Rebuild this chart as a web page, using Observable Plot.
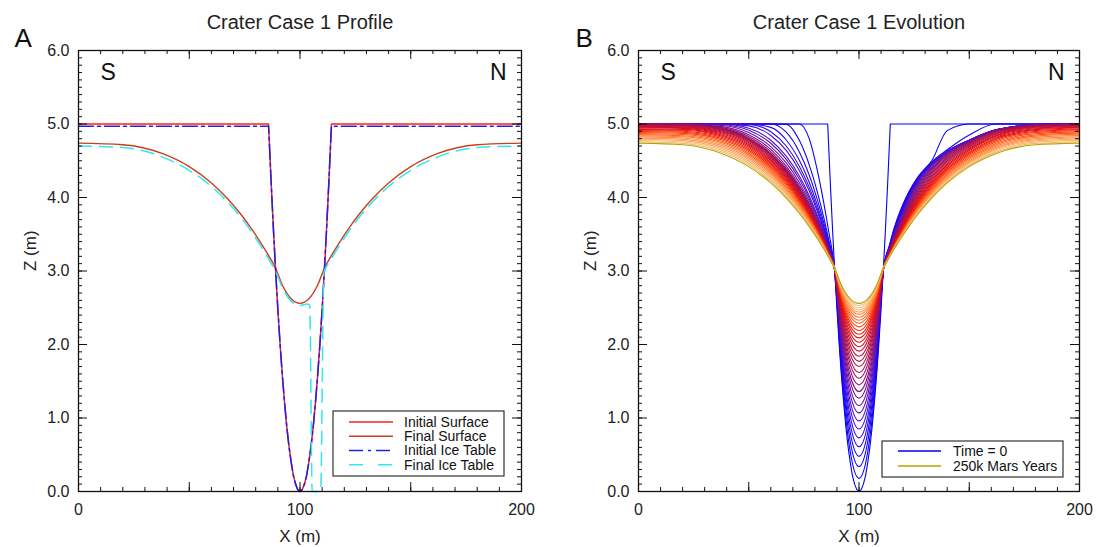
<!DOCTYPE html>
<html>
<head>
<meta charset="utf-8">
<script src="https://cdn.jsdelivr.net/npm/d3@7"></script>
<script src="https://cdn.jsdelivr.net/npm/@observablehq/plot@0.6"></script>
<style>
  body { margin: 0; background: #fff; }
  #wrap { display: flex; width: 1097px; height: 547px; }
  #wrap svg { display: block; }
</style>
</head>
<body>
<div id="wrap"></div>
<script>
const FONT = "'Liberation Sans', Arial, Helvetica, sans-serif";

// ---- axis tick values / labels ----
const zTickLabels = [0, 1, 2, 3, 4, 5, 6];
const xTickLabels = [0, 100, 200];
const xMajorTicks = [0, 50, 100, 150, 200];
const xMinorTicks = d3.range(0, 201, 10);
const zMinorTicks = d3.range(0, 61).map(k => k / 10);

// ---- Panel A: initial surface & initial ice table ----
const initialX = [0, 85.8, 87, 88, 89, 90, 91, 92, 93, 94, 95, 96, 97, 98, 99, 100,
                  101, 102, 103, 104, 105, 106, 107, 108, 109, 110, 111, 112, 113, 114.2, 200];
const initialSurfaceZ = [5, 5, 4.19, 3.57, 3.00, 2.48, 2.01, 1.59, 1.22, 0.89, 0.62, 0.40, 0.22, 0.10, 0.025, 0,
                         0.025, 0.10, 0.22, 0.40, 0.62, 0.89, 1.22, 1.59, 2.01, 2.48, 3.00, 3.57, 4.19, 5, 5];
const initialIceZ = [4.97, 4.97, 4.19, 3.57, 3.00, 2.48, 2.01, 1.59, 1.22, 0.89, 0.62, 0.40, 0.22, 0.10, 0.025, 0,
                     0.025, 0.10, 0.22, 0.40, 0.62, 0.89, 1.22, 1.59, 2.01, 2.48, 3.00, 3.57, 4.19, 4.97, 4.97];

// ---- final ice table ----
const finalIceX = [0, 20, 38, 50, 60, 67, 73, 77.5, 81, 84, 86.3, 88.8, 92, 96, 100, 103, 104.4, 105.5,
                   109.3, 110.8, 113.7, 116, 119, 122.5, 127, 133, 140, 150, 162, 180, 200];
const finalIceZ = [4.70, 4.68, 4.55, 4.37, 4.15, 3.95, 3.74, 3.56, 3.40, 3.26, 3.14, 3.01, 2.78, 2.59, 2.53, 2.55, 2.54, 0,
                   0, 2.98, 3.14, 3.26, 3.40, 3.56, 3.74, 3.95, 4.15, 4.37, 4.55, 4.68, 4.70];

// ---- profile x grid shared by the evolving profiles ----
const xGrid = [0, 20, 38, 50, 60, 67, 73, 77.5, 81, 84, 86.3, 88.8, 92, 96, 100, 104, 108, 111.2,
               113.7, 116, 119, 122.5, 127, 133, 140, 150, 162, 180, 200];

const finalSurfaceZ = [4.740, 4.718, 4.596, 4.420, 4.198, 3.993, 3.782, 3.601, 3.445, 3.302, 3.185, 3.05,
                       2.810, 2.622, 2.56, 2.622, 2.810, 3.05,
                       3.185, 3.302, 3.445, 3.601, 3.782, 3.993, 4.198, 4.420, 4.596, 4.718, 4.740];

// ---- Panel B: intermediate profiles (time steps 1..32), read/estimated from the figure ----
const intermediateZ = [
  [5,5,5,5,5,5,5,4.794,4.383,3.930,3.531, 3.05, 1.644,0.546,0.18,0.546,1.644, 3.05, 3.34,3.59,3.84,4.07,4.29,4.50,4.91,5,5,5,5],
  [5,5,5,5,5,4.995,4.774,4.438,4.088,3.731,3.421, 3.05, 1.723,0.686,0.34,0.686,1.723, 3.05, 3.33,3.575,3.82,4.055,4.28,4.485,4.65,4.85,5,5,5],
  [5,5,5,5,5,4.888,4.617,4.299,3.982,3.661,3.384, 3.05, 1.791,0.808,0.48,0.808,1.791, 3.05, 3.32,3.56,3.80,4.04,4.27,4.47,4.63,4.78,4.92,4.99,5],
  [5,5,5,5,4.954,4.782,4.502,4.201,3.906,3.612,3.357, 3.05, 1.855,0.921,0.61,0.921,1.855, 3.05, 3.312,3.544,3.783,4.028,4.264,4.468,4.630,4.780,4.920,4.990,5],
  [5,5,5,4.995,4.895,4.701,4.423,4.134,3.856,3.578,3.339, 3.05, 1.914,1.026,0.73,1.026,1.914, 3.05, 3.304,3.529,3.766,4.012,4.254,4.463,4.628,4.780,4.920,4.990,5],
  [5,5,5,4.975,4.844,4.640,4.365,4.086,3.819,3.554,3.326, 3.05, 1.973,1.131,0.85,1.131,1.973, 3.05, 3.296,3.514,3.747,3.994,4.239,4.455,4.624,4.779,4.920,4.990,5],
  [5,5,4.998,4.942,4.779,4.562,4.288,4.018,3.765,3.517,3.304, 3.05, 2.026,1.226,0.96,1.226,2.026, 3.05, 3.289,3.500,3.729,3.975,4.223,4.445,4.619,4.777,4.919,4.990,5],
  [5,5,4.990,4.914,4.738,4.518,4.247,3.984,3.738,3.499,3.295, 3.05, 2.080,1.322,1.07,1.322,2.080, 3.05, 3.282,3.487,3.711,3.955,4.205,4.432,4.612,4.774,4.918,4.989,5],
  [5,5,4.979,4.884,4.693,4.470,4.202,3.945,3.709,3.479,3.283, 3.05, 2.129,1.410,1.17,1.410,2.129, 3.05, 3.275,3.474,3.695,3.935,4.187,4.418,4.603,4.769,4.916,4.989,4.999],
  [5,5,4.964,4.854,4.654,4.428,4.163,3.913,3.684,3.462,3.273, 3.05, 2.178,1.497,1.27,1.497,2.178, 3.05, 3.269,3.462,3.678,3.915,4.166,4.401,4.592,4.764,4.913,4.987,4.998],
  [5,4.998,4.951,4.829,4.623,4.397,4.135,3.890,3.665,3.449,3.267, 3.05, 2.222,1.575,1.36,1.575,2.222, 3.05, 3.263,3.451,3.662,3.897,4.147,4.385,4.580,4.757,4.910,4.986,4.997],
  [5,4.996,4.940,4.811,4.601,4.375,4.115,3.873,3.653,3.441,3.262, 3.05, 2.267,1.654,1.45,1.654,2.267, 3.05, 3.257,3.440,3.647,3.877,4.126,4.366,4.566,4.749,4.905,4.983,4.995],
  [4.995,4.990,4.930,4.800,4.589,4.365,4.107,3.867,3.648,3.438,3.260, 3.05, 2.311,1.732,1.54,1.732,2.311, 3.05, 3.251,3.429,3.631,3.857,4.104,4.346,4.550,4.738,4.898,4.979,4.993],
  [4.991,4.986,4.923,4.790,4.578,4.352,4.095,3.857,3.640,3.432,3.257, 3.05, 2.350,1.802,1.62,1.802,2.350, 3.05, 3.246,3.419,3.617,3.839,4.084,4.327,4.534,4.727,4.891,4.975,4.989],
  [4.985,4.979,4.914,4.778,4.564,4.338,4.082,3.846,3.632,3.426,3.254, 3.05, 2.389,1.872,1.70,1.872,2.389, 3.05, 3.241,3.409,3.603,3.821,4.062,4.306,4.516,4.715,4.882,4.969,4.985],
  [4.977,4.971,4.903,4.764,4.548,4.323,4.068,3.834,3.622,3.420,3.250, 3.05, 2.423,1.933,1.77,1.933,2.423, 3.05, 3.236,3.400,3.590,3.804,4.043,4.287,4.499,4.702,4.872,4.963,4.979],
  [4.968,4.961,4.890,4.749,4.532,4.307,4.053,3.822,3.613,3.414,3.247, 3.05, 2.458,1.994,1.84,1.994,2.458, 3.05, 3.232,3.391,3.578,3.787,4.023,4.266,4.481,4.688,4.861,4.955,4.973],
  [4.958,4.951,4.877,4.733,4.515,4.290,4.038,3.809,3.603,3.407,3.243, 3.05, 2.492,2.055,1.91,2.055,2.492, 3.05, 3.227,3.383,3.565,3.770,4.002,4.245,4.461,4.671,4.848,4.945,4.964],
  [4.948,4.940,4.864,4.717,4.498,4.273,4.023,3.796,3.593,3.400,3.239, 3.05, 2.521,2.108,1.97,2.108,2.521, 3.05, 3.223,3.375,3.554,3.756,3.984,4.225,4.442,4.656,4.835,4.935,4.956],
  [4.936,4.927,4.848,4.700,4.479,4.255,4.007,3.783,3.583,3.394,3.235, 3.05, 2.551,2.160,2.03,2.160,2.551, 3.05, 3.219,3.368,3.543,3.741,3.965,4.205,4.423,4.640,4.820,4.924,4.945],
  [4.924,4.915,4.833,4.682,4.460,4.237,3.991,3.770,3.573,3.387,3.231, 3.05, 2.580,2.212,2.09,2.212,2.580, 3.05, 3.216,3.360,3.532,3.725,3.946,4.184,4.402,4.621,4.804,4.911,4.933],
  [4.912,4.902,4.817,4.663,4.441,4.218,3.975,3.757,3.563,3.380,3.228, 3.05, 2.605,2.256,2.14,2.256,2.605, 3.05, 3.212,3.354,3.523,3.713,3.930,4.166,4.384,4.605,4.789,4.898,4.921],
  [4.898,4.887,4.799,4.643,4.420,4.199,3.958,3.743,3.552,3.373,3.224, 3.05, 2.629,2.299,2.19,2.299,2.629, 3.05, 3.209,3.348,3.514,3.700,3.913,4.148,4.365,4.588,4.772,4.884,4.908],
  [4.885,4.873,4.782,4.624,4.400,4.180,3.941,3.729,3.542,3.366,3.220, 3.05, 2.654,2.343,2.24,2.343,2.654, 3.05, 3.206,3.342,3.505,3.687,3.896,4.129,4.345,4.569,4.754,4.868,4.893],
  [4.870,4.857,4.763,4.603,4.379,4.160,3.924,3.715,3.531,3.358,3.216, 3.05, 2.678,2.387,2.29,2.387,2.678, 3.05, 3.203,3.336,3.495,3.674,3.879,4.109,4.325,4.549,4.734,4.850,4.876],
  [4.855,4.841,4.744,4.581,4.357,4.139,3.907,3.701,3.520,3.351,3.212, 3.05, 2.698,2.422,2.33,2.422,2.698, 3.05, 3.200,3.331,3.488,3.663,3.865,4.093,4.308,4.533,4.717,4.835,4.860],
  [4.840,4.826,4.725,4.560,4.335,4.119,3.889,3.687,3.510,3.344,3.208, 3.05, 2.717,2.457,2.37,2.457,2.717, 3.05, 3.197,3.326,3.481,3.652,3.851,4.076,4.290,4.515,4.699,4.818,4.843],
  [4.825,4.809,4.705,4.538,4.314,4.099,3.872,3.673,3.499,3.337,3.204, 3.05, 2.737,2.492,2.41,2.492,2.737, 3.05, 3.195,3.321,3.473,3.642,3.837,4.059,4.272,4.497,4.680,4.800,4.825],
  [4.808,4.791,4.684,4.515,4.291,4.078,3.854,3.658,3.488,3.330,3.200, 3.05, 2.752,2.518,2.44,2.518,2.752, 3.05, 3.193,3.317,3.467,3.634,3.826,4.047,4.258,4.482,4.665,4.786,4.810],
  [4.792,4.774,4.663,4.492,4.268,4.057,3.836,3.644,3.478,3.323,3.196, 3.05, 2.766,2.544,2.47,2.544,2.766, 3.05, 3.191,3.313,3.462,3.626,3.815,4.033,4.243,4.468,4.649,4.770,4.794],
  [4.775,4.756,4.641,4.469,4.245,4.036,3.818,3.630,3.467,3.316,3.192, 3.05, 2.781,2.570,2.50,2.570,2.781, 3.05, 3.189,3.309,3.456,3.617,3.804,4.020,4.228,4.452,4.632,4.754,4.777],
  [4.758,4.737,4.619,4.445,4.222,4.015,3.801,3.616,3.456,3.309,3.189, 3.05, 2.796,2.596,2.53,2.596,2.796, 3.05, 3.187,3.306,3.451,3.609,3.793,4.007,4.213,4.436,4.614,4.736,4.759]
];
const evolutionZ = [...intermediateZ, finalSurfaceZ];

// ---- colours ----
const stepColorDomain = [0, 4, 7, 10, 13, 18, 21, 23, 26, 29, 31, 32, 33];
const stepColorRange = ["#0000ff", "#2808f0", "#5010c8", "#7a1090", "#9a1060", "#c81030", "#e81010",
                        "#ff2a00", "#ff6a20", "#ff9a50", "#ffb878", "#e8c070", "#b8a400"];
const stepColor = d3.scaleLinear().domain(stepColorDomain).range(stepColorRange).interpolate(d3.interpolateRgb);

const C_INIT = "#ff1e1e", C_FINAL = "#c8401a", C_ICE0 = "#2020e8", C_ICE1 = "#30e6f0";

// ---- helpers ----
const toPts = (xs, zs) => xs.map((x, i) => ({x, z: zs[i]}));
const MT = 50, MB = 56, ML = 78, H = 547;
const PH = H - MT - MB;

function frameMarks(plotW, title, letter, letterDx) {
  const tk = {stroke: "#111", strokeWidth: 1};
  return [
    Plot.tickY(zMinorTicks, {y: d => d, insetRight: plotW - 4, ...tk}),
    Plot.tickY(zMinorTicks, {y: d => d, insetLeft: plotW - 4, ...tk}),
    Plot.tickY(zTickLabels, {y: d => d, insetRight: plotW - 9, ...tk}),
    Plot.tickY(zTickLabels, {y: d => d, insetLeft: plotW - 9, ...tk}),
    Plot.tickX(xMinorTicks, {x: d => d, insetTop: PH - 4, ...tk}),
    Plot.tickX(xMinorTicks, {x: d => d, insetBottom: PH - 4, ...tk}),
    Plot.tickX(xMajorTicks, {x: d => d, insetTop: PH - 9, ...tk}),
    Plot.tickX(xMajorTicks, {x: d => d, insetBottom: PH - 9, ...tk}),
    Plot.frame({stroke: "#111", strokeWidth: 1.3}),
    Plot.text(zTickLabels, {y: d => d, frameAnchor: "left", textAnchor: "end", dx: -9, text: d => d.toFixed(1), fontSize: 16, fill: "#222"}),
    Plot.text(xTickLabels, {x: d => d, frameAnchor: "bottom", lineAnchor: "bottom", dy: 23, text: d => String(d), fontSize: 16, fill: "#222"}),
    Plot.text(["X (m)"], {frameAnchor: "bottom", lineAnchor: "bottom", dy: 50, fontSize: 17, fill: "#222"}),
    Plot.text(["Z (m)"], {frameAnchor: "left", rotate: -90, dx: -48, fontSize: 17, fill: "#222"}),
    Plot.text([title], {frameAnchor: "top", lineAnchor: "bottom", dy: -22, fontSize: 20, fill: "#222"}),
    Plot.text([letter], {frameAnchor: "top-left", textAnchor: "start", lineAnchor: "top", dx: letterDx, dy: -22, fontSize: 26, fill: "#111"}),
    Plot.text(["S"], {frameAnchor: "top-left", textAnchor: "start", lineAnchor: "top", dx: 22, dy: 13, fontSize: 23, fill: "#111"}),
    Plot.text(["N"], {frameAnchor: "top-right", textAnchor: "end", lineAnchor: "top", dx: -15, dy: 13, fontSize: 23, fill: "#111"})
  ];
}

function addLegend(svg, box, rows, lineX1, lineX2, textX) {
  const g = d3.select(svg).append("g").attr("font-family", FONT).attr("font-size", 14).attr("text-anchor", "start");
  g.append("rect").attr("x", box.x).attr("y", box.y).attr("width", box.w).attr("height", box.h)
    .attr("fill", "white").attr("stroke", "#333").attr("stroke-width", 1.2);
  rows.forEach(r => {
    g.append("line").attr("x1", lineX1).attr("x2", lineX2).attr("y1", r.y).attr("y2", r.y)
      .attr("stroke", r.color).attr("stroke-width", r.width || 1.4)
      .attr("stroke-dasharray", r.dash || null);
    g.append("text").attr("x", textX).attr("y", r.y).attr("dy", "0.35em").attr("text-anchor", "start")
      .attr("fill", "#111").text(r.label);
  });
}

// ---- Panel A ----
const wA = 560, mRA = 39, pwA = wA - ML - mRA;
const plotA = Plot.plot({
  width: wA, height: H, marginLeft: ML, marginRight: mRA, marginTop: MT, marginBottom: MB,
  style: {fontFamily: FONT, background: "white", overflow: "visible"},
  x: {domain: [0, 200], axis: null},
  y: {domain: [0, 6], axis: null},
  marks: [
    Plot.line(toPts(initialX, initialSurfaceZ), {x: "x", y: "z", stroke: C_INIT, strokeWidth: 1.5}),
    Plot.line(toPts(xGrid, finalSurfaceZ), {x: "x", y: "z", stroke: C_FINAL, strokeWidth: 1.4, curve: "monotone-x"}),
    Plot.line(toPts(initialX, initialIceZ), {x: "x", y: "z", stroke: C_ICE0, strokeWidth: 1.5, strokeDasharray: "15,4,3,4"}),
    Plot.line(toPts(finalIceX, finalIceZ), {x: "x", y: "z", stroke: C_ICE1, strokeWidth: 1.5, strokeDasharray: "13,8", curve: "monotone-x"}),
    ...frameMarks(pwA, "Crater Case 1 Profile", "A", -64)
  ]
});
addLegend(plotA, {x: 333, y: 411, w: 171, h: 65}, [
  {y: 422, color: C_INIT, label: "Initial Surface"},
  {y: 436.3, color: C_FINAL, label: "Final Surface"},
  {y: 450.5, color: C_ICE0, label: "Initial Ice Table", dash: "14,5,3,5"},
  {y: 464.8, color: C_ICE1, label: "Final Ice Table", dash: "14,15"}
], 349, 393, 404);

// ---- Panel B ----
const wB = 537, mRB = 18, pwB = wB - ML - mRB;
const evoData = evolutionZ.flatMap((row, k) => row.map((z, j) => ({step: k + 1, x: xGrid[j], z})));
const plotB = Plot.plot({
  width: wB, height: H, marginLeft: ML, marginRight: mRB, marginTop: MT, marginBottom: MB,
  style: {fontFamily: FONT, background: "white", overflow: "visible"},
  x: {domain: [0, 200], axis: null},
  y: {domain: [0, 6], axis: null},
  color: {type: "identity"},
  marks: [
    Plot.line(toPts(initialX, initialSurfaceZ), {x: "x", y: "z", stroke: stepColor(0), strokeWidth: 1.1}),
    Plot.line(evoData, {x: "x", y: "z", z: "step", stroke: d => stepColor(d.step), strokeWidth: 1.1, curve: "monotone-x"}),
    ...frameMarks(pwB, "Crater Case 1 Evolution", "B", -63)
  ]
});
addLegend(plotB, {x: 322, y: 441, w: 181, h: 36}, [
  {y: 451, color: stepColor(0), label: "Time = 0", width: 1.3},
  {y: 466, color: stepColor(33), label: "250k Mars Years", width: 1.6}
], 338, 381, 393);

const wrap = document.getElementById("wrap");
wrap.appendChild(plotA);
wrap.appendChild(plotB);
</script>
</body>
</html>
